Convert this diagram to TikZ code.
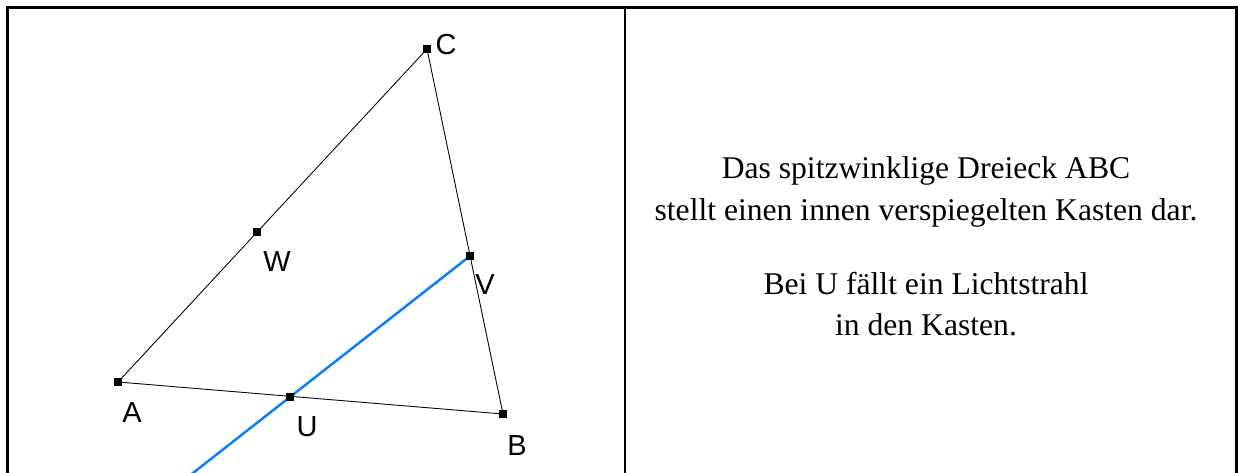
\documentclass[tikz,border=0pt]{standalone}
\usepackage{fontspec}
\setmainfont{Liberation Serif}
\newfontfamily\labelfont{Liberation Sans}
\usepackage{tikz}
\usetikzlibrary{positioning,calc}
\definecolor{rayBlue}{RGB}{10,125,250}
\tikzset{
  pt/.style={rectangle,fill=black,inner sep=0pt,minimum size=4pt},
  ptlabel/.style={font=\labelfont\fontsize{16.5}{18}\selectfont},
  frame/.style={line width=1.5pt},
}

\begin{document}
\begin{tikzpicture}[x=0.02cm,y=-0.02cm]
        \useasboundingbox (0,0) rectangle (1238,473);
        \begin{scope}
          \clip (0,0) rectangle (1238,473);
          % Frame
          \draw[frame] (7.5,490) -- (7.5,7.5) -- (1236.5,7.5) -- (1236.5,490);
          \draw[frame] (625,7.5) -- (625,490);
          % Triangle
          \coordinate (A) at (118,382);
          \coordinate (B) at (503,414);
          \coordinate (C) at (427,49);
          \coordinate (W) at (257,232);
          \coordinate (V) at (470,256);
          \coordinate (U) at (290,397);
          \coordinate (ray) at ($(U)!-0.55!(V)$);
          \draw[line width=0.5pt] (A) -- (B) -- (C) -- cycle;
          % Light ray
          \draw[rayBlue,line width=1.4pt] (ray) -- (V);
          % Points
          \foreach \p in {A,B,C,W,V,U}
            \node[pt] (\p-mark) at (\p) {};
          \node[ptlabel] (C-lab) at (446,45) {C};
          \node[ptlabel] (W-lab) at (277,262) {W};
          \node[ptlabel] (V-lab) at (485,285) {V};
          \node[ptlabel] (A-lab) at (132,413) {A};
          \node[ptlabel] (U-lab) at (307,427) {U};
          \node[ptlabel] (B-lab) at (517,446) {B};
        \end{scope}
        % Text on the right
        \node[font=\fontsize{18}{23.8}\selectfont, align=center] (info1)
          at (926,192) {Das spitzwinklige Dreieck ABC\\stellt einen innen verspiegelten Kasten dar.};
        \node[font=\fontsize{18}{23.8}\selectfont, align=center] (info2)
          at (926,304) {Bei U fällt ein Lichtstrahl\\in den Kasten.};
      \end{tikzpicture}
\end{document}
